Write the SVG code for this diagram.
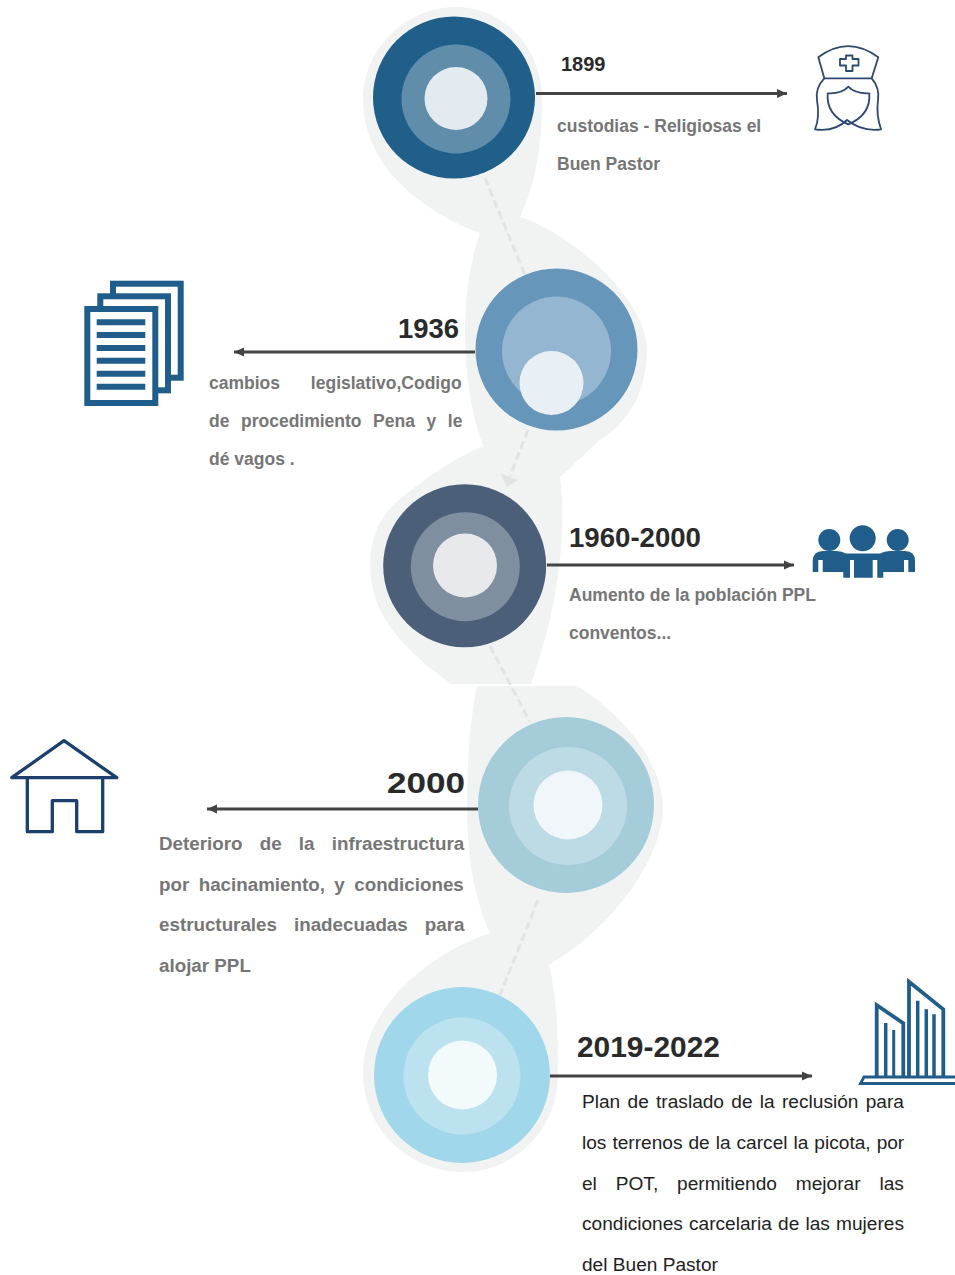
<svg xmlns="http://www.w3.org/2000/svg" width="955" height="1275" viewBox="0 0 955 1275">
<style>
text{font-family:"Liberation Sans",Arial,sans-serif}
.y{font-weight:700;fill:#2a2a2a}
.b{font-weight:700;fill:#767676}
.b1{font-size:17.5px}
.b4{font-size:18.8px}
.k{font-size:19.1px;fill:#222}
.ln{stroke:#434343;stroke-width:3;fill:none;marker-end:url(#ah)}
.ds{stroke:#e2e4e4;stroke-width:3;stroke-dasharray:8 4;fill:none}
.blue{fill:#215d8a}
.bs{fill:none;stroke:#215d8a}
</style>
<defs>
<marker id="ah" markerUnits="userSpaceOnUse" markerWidth="12" markerHeight="12" refX="10" refY="6" orient="auto"><path d="M0 1.5L10 6L0 10.5Z" fill="#434343"/></marker>
</defs>
<rect width="955" height="1275" fill="#fff"/>
<g id="band" fill="#f1f3f3">
<path d="M456 7C505 7 542 50 542 98C542 130 540 175 520 217C555 228 600 262 622 292C640 315 647 335 647 350C647 395 625 425 600 440L560 477C565 510 565 590 531 684L451 684C420 660 370 625 370 565C370 530 385 510 405 495C430 475 460 455 483 446C470 410 465 370 465 333C465 295 470 262 480 233C430 215 363 170 363 100C363 50 405 7 456 7Z"/>
<path d="M477 686H577C620 712 662 760 663 807C663 860 610 930 549 965C558 1000 558 1040 558 1073C558 1130 515 1172 463 1172C410 1172 363 1130 363 1073C363 1010 425 955 490 933C475 900 467 860 467 807C467 760 470 720 477 686Z"/>
</g>
<g id="connectors">
<path class="ds" d="M485 178L525 275"/>
<path class="ds" d="M528 430L510 476"/>
<path d="M500 473L518 480L507 487Z" fill="#e2e4e4"/>
<path class="ds" d="M490 646L530 722"/>
<path class="ds" d="M538 900L500 995"/>
<path class="ln" d="M536 93.5H787"/>
<path class="ln" d="M475 352H234"/>
<path class="ln" d="M547 565H794"/>
<path class="ln" d="M478 809H207"/>
<path class="ln" d="M550 1076H812"/>
</g>
<g id="node-1899">
<circle cx="454" cy="97.5" r="81" fill="#215f8b"/><circle cx="456" cy="99" r="54.5" fill="#608daa"/><circle cx="456" cy="98.5" r="31.5" fill="#e4ebf0"/>
<text class="y" x="561" y="70.5" font-size="20">1899</text>
<text class="b b1" x="557" y="132">custodias - Religiosas el</text>
<text class="b b1" x="557" y="170">Buen Pastor</text>
</g>
<g id="icon-nurse" fill="none" stroke="#2c4a6e" stroke-width="1.8" stroke-linejoin="round">
<path d="M818.3 57.3Q848 35 878.3 57.3L871.7 78.3H824.3Z"/>
<path d="M846 55.5H852.5V59H858.5V65.5H852.5V71H846V65.5H840V59H846Z"/>
<path d="M824.3 78.3Q815 88 817 100Q820 118 815 129.3Q835 132 847 120Q862 132 881 129.3Q876 115 878 100Q880 88 871.7 78.3"/>
<path d="M827.7 93.3Q842 94 848.3 86.7Q855 94 869.3 93.3Q871 115 848.3 124.3Q826 115 827.7 93.3Z"/>
</g>
<g id="node-1936">
<circle cx="556.5" cy="349.5" r="81" fill="#6796bb"/><circle cx="556.5" cy="351" r="54.5" fill="#95b6d0"/><circle cx="551.5" cy="383" r="32" fill="#e8f0f6"/>
<text class="y" x="398" y="338" font-size="27.4">1936</text>
<text class="b b1" x="209" y="389" word-spacing="26">cambios legislativo,Codigo</text>
<text class="b b1" x="209" y="427" word-spacing="6.7">de procedimiento Pena y le</text>
<text class="b b1" x="209" y="465">dé vagos .</text>
</g>
<g id="icon-docs">
<rect x="113" y="283.7" width="67.7" height="94" fill="#fff" stroke="#215d8a" stroke-width="6"/>
<rect x="100.3" y="296.3" width="67.7" height="94" fill="#fff" stroke="#215d8a" stroke-width="6"/>
<rect x="87.3" y="309" width="68" height="94" fill="#fff" stroke="#215d8a" stroke-width="6"/>
<path d="M96.7 322.3H145.3M96.7 335H145.3M96.7 348H145.3M96.7 360.7H145.3M96.7 373.7H145.3M96.7 386.7H145.3" stroke="#215d8a" stroke-width="6" fill="none"/>
</g>
<g id="node-1960-2000">
<circle cx="464.7" cy="565.8" r="81.5" fill="#4c5f78"/><circle cx="465.3" cy="566.7" r="54.5" fill="#7f8f9f"/><circle cx="465" cy="565.5" r="32" fill="#e8e9ed"/>
<text class="y" x="569" y="547" font-size="27.6">1960-2000</text>
<text class="b b1" x="569" y="601">Aumento de la población PPL</text>
<text class="b b1" x="569" y="639">conventos...</text>
</g>
<g id="icon-people">
<circle class="blue" cx="862.7" cy="538.3" r="13"/><circle class="blue" cx="829.3" cy="540" r="11"/><circle class="blue" cx="897.7" cy="540" r="11"/>
<path class="blue" d="M812.7 572V561Q813 551 823 551H836Q842 551 846 553.5H880Q884 551 890 551H905Q915 551 915 561V572H908.3V560H904V572H883.3V577.7H877.3V560H872.7V577.7H854V560H850V577.7H843.3V572H822.7V560H818.3V572Z"/>
</g>
<g id="node-2000">
<circle cx="566" cy="805" r="88" fill="#a5cdd9"/><circle cx="568" cy="806" r="59" fill="#bddbe5"/><circle cx="568" cy="805" r="34.5" fill="#f0f6f9"/>
<text class="y" x="387" y="793" font-size="29" textLength="78" lengthAdjust="spacingAndGlyphs">2000</text>
<text class="b b4" x="159" y="850" word-spacing="12">Deterioro de la infraestructura</text>
<text class="b b4" x="159" y="891" word-spacing="4.2">por hacinamiento, y condiciones</text>
<text class="b b4" x="159" y="931" word-spacing="11.8">estructurales inadecuadas para</text>
<text class="b b4" x="159" y="972">alojar PPL</text>
</g>
<g id="icon-house" fill="none" stroke="#1c3f6e" stroke-width="3.3" stroke-linejoin="round" stroke-linecap="round">
<path d="M11.7 777.7L64 740.7L116.7 777.7Z"/>
<path d="M27.3 777.7V831.7H52.3V800.7H76.7V831.7H102.7V777.7"/>
</g>
<g id="node-2019-2022">
<circle cx="462" cy="1075" r="88" fill="#a1d7ea"/><circle cx="462" cy="1076" r="58.5" fill="#bde2ef"/><circle cx="462.5" cy="1075" r="34.5" fill="#f2fafc"/>
<text class="y" x="577" y="1057" font-size="29.9">2019-2022</text>
<text class="k" x="582" y="1108" word-spacing="2">Plan de traslado de la reclusión para</text>
<text class="k" x="582" y="1149" word-spacing="0.7">los terrenos de la carcel la picota, por</text>
<text class="k" x="582" y="1190" word-spacing="13.6">el POT, permitiendo mejorar las</text>
<text class="k" x="582" y="1230" word-spacing="0.9">condiciones carcelaria de las mujeres</text>
<text class="k" x="582" y="1271">del Buen Pastor</text>
</g>
<g id="icon-buildings">
<path class="bs" stroke-width="3.8" d="M876.7 1076V1005L903.3 1023.3V1076M909 1076V981.7L943.3 1009.3V1076"/>
<path class="bs" stroke-width="3.5" d="M885.7 1076V1023M917.7 1076V1000.7M926.3 1076V1009.3M934 1076V1014.3"/>
<path class="bs" stroke-width="3" d="M893.7 1076V1030"/>
<path class="bs" stroke-width="2.8" d="M955 1077H864L860.5 1083.5H955"/>
</g>
</svg>
